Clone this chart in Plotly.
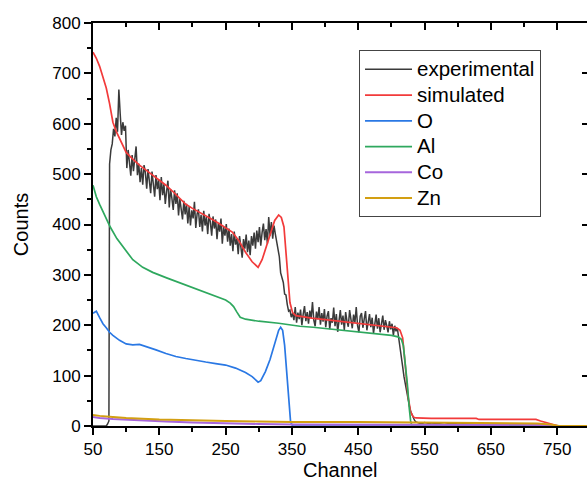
import plotly.graph_objects as go

FONT = "Liberation Sans, Arial, sans-serif"

# ---------------- data ----------------
# experimental spectrum
exp_lead_channel = [50, 60, 70, 72, 74]
exp_lead_counts = [0, 0, 0, 4, 10]
exp_grid_start = 75
exp_grid_step = 2
exp_grid_counts = [
    520, 548, 560, 590, 575, 612, 584, 668, 620, 578,   # 75..93
    603, 586, 596, 512, 548, 522, 497, 538, 506, 530,   # 95..113
    555, 498, 521, 484, 512, 479, 518, 503, 471, 510,   # 115..133
    486, 462, 505, 476, 455, 498, 470, 489, 448, 494,   # 135..153
    458, 480, 441, 466, 487, 434, 470, 452, 429, 468,   # 155..173
    441, 462, 418, 451, 430, 410, 447, 420, 441, 402,   # 175..193
    436, 398, 428, 412, 445, 393, 421, 430, 395, 419,   # 195..213
    386, 427, 398, 415, 381, 421, 404, 378, 416, 392,   # 215..233
    410, 371, 402, 386, 412, 362, 395, 378, 401, 366,   # 235..253
    392, 358, 381, 347, 386, 360, 372, 341, 377, 348,   # 255..273
    334, 371, 352, 380, 345, 368, 339, 377, 358, 384,   # 275..293
    352, 388, 365, 395, 358, 384, 402, 369, 391, 362,   # 295..313
    415, 378, 405, 372, 398, 381, 365, 346, 336, 304,   # 315..333
    292, 285, 262, 260, 241, 228, 230, 216, 224, 210,   # 335..353
    236, 205, 225, 212, 231, 200, 222, 238, 208, 226,   # 355..373
    203, 229, 214, 246, 210, 198, 227, 212, 236, 201,   # 375..393
    224, 207, 232, 196, 218, 228, 192, 214, 205, 235,   # 395..413
    198, 222, 187, 214, 230, 201, 219, 190, 226, 208,   # 415..433
    197, 230, 212, 194, 221, 205, 236, 199, 186, 218,   # 435..453
    224, 195, 212, 228, 190, 207, 222, 196, 215, 184,   # 455..473
    209, 221, 193, 214, 186, 205, 219, 191, 210, 199,   # 475..493
    186, 208, 192, 203, 180, 199, 188, 194, 176, 158,   # 495..513
    145, 118, 98, 82, 74, 56, 41, 29, 22, 15,           # 515..533
    11, 8,                                              # 535..537
]
exp_tail_channel = [540, 545, 550, 560, 570, 580, 590, 600, 615, 630, 645,
                    660, 675, 690, 705, 720, 730, 740, 748, 760]
exp_tail_counts = [6, 4, 7, 4, 5, 3, 6, 4, 5, 3, 5, 3, 4, 3, 4, 3, 2, 1, 0, 0]

# simulated total
sim_channel = [50, 55, 60, 65, 70, 75, 80, 85, 90, 95, 100, 110, 120, 130, 140,
               150, 160, 170, 180, 190, 200, 210, 220, 230, 240, 250, 260, 270,
               280, 290, 299, 305, 311, 317, 324, 330, 334, 338, 341, 344, 347,
               351, 356, 380, 400, 420, 440, 460, 480, 500, 508, 513, 517, 521,
               525, 529, 533, 537, 560, 600, 628, 632, 700, 718, 725, 735, 745,
               752, 795]
sim_counts = [742, 730, 714, 694, 671, 640, 603, 585, 570, 555, 543, 530, 518,
              508, 498, 488, 478, 466, 452, 440, 432, 425, 418, 410, 402, 394,
              385, 368, 345, 326, 315, 330, 355, 378, 408, 419, 414, 395, 350,
              290, 245, 225, 219, 214, 211, 208, 205, 202, 200, 197, 195, 190,
              175, 120, 60, 28, 18, 16, 15, 15, 15, 13, 13, 13, 10, 6, 2, 0, 0]

# O
o_channel = [50, 55, 60, 65, 70, 75, 80, 90, 100, 110, 120, 125, 135, 145, 160,
             175, 190, 205, 220, 235, 250, 265, 280, 290, 295, 299, 303, 310,
             317, 324, 330, 333, 336, 339, 342, 345, 348, 351, 795]
o_counts = [224, 228, 215, 203, 195, 186, 180, 170, 163, 161, 162, 160, 155,
            151, 144, 138, 134, 130, 127, 124, 121, 115, 106, 98, 91, 87, 90,
            108, 132, 162, 190, 196, 190, 160, 105, 45, 8, 0, 0]

# Al
al_channel = [50, 55, 60, 65, 70, 76, 86, 101, 110, 125, 140, 161, 185, 211,
              235, 250, 257, 262, 267, 272, 280, 300, 330, 362, 382, 420, 460,
              500, 510, 515, 518, 521, 524, 527, 529, 531, 795]
al_counts = [478, 455, 440, 425, 410, 395, 372, 345, 330, 315, 305, 294, 282,
             270, 258, 250, 244, 237, 226, 216, 212, 208, 204, 198, 196, 191,
             186, 180, 177, 172, 160, 125, 84, 35, 10, 0, 0]

# Co
co_channel = [50, 60, 80, 120, 160, 200, 250, 300, 350, 400, 500, 600, 700,
              715, 725, 735, 742, 795]
co_counts = [18, 16, 14, 11, 9, 7, 5, 4, 3, 3, 3, 2, 2, 3, 2, 0.5, 0, 0]

# Zn
zn_channel = [50, 60, 80, 100, 150, 200, 250, 300, 350, 450, 550, 650, 720,
              740, 752, 795]
zn_counts = [22, 20, 18, 16, 13, 11, 10, 9, 8, 8, 7, 6, 5, 3, 0, 0]

# axis ticks
x_tick_values = [50, 150, 250, 350, 450, 550, 650, 750]
y_tick_values = [0, 100, 200, 300, 400, 500, 600, 700, 800]

# ---------------- build ----------------
exp_channel = (exp_lead_channel
               + list(range(exp_grid_start,
                            exp_grid_start + exp_grid_step * len(exp_grid_counts),
                            exp_grid_step))
               + exp_tail_channel)
exp_counts = exp_lead_counts + exp_grid_counts + exp_tail_counts

series = [
    ("experimental", exp_channel, exp_counts, "#3a3a3a", 1.5),
    ("simulated", sim_channel, sim_counts, "#f23a3a", 1.7),
    ("O", o_channel, o_counts, "#2a78e4", 1.7),
    ("Al", al_channel, al_counts, "#2ea85e", 1.7),
    ("Co", co_channel, co_counts, "#a666dc", 1.9),
    ("Zn", zn_channel, zn_counts, "#d39f12", 1.9),
]

fig = go.Figure()
for name, xs, ys, col, w in series:
    fig.add_trace(go.Scatter(
        x=xs, y=ys, mode="lines",
        name='<span style="font-size:20.5px">' + name + "</span>",
        line=dict(color=col, width=w)))

# helper trace so the mirrored top/right axes are drawn
fig.add_trace(go.Scatter(x=[50], y=[0], xaxis="x2", yaxis="y2", mode="markers",
                         marker=dict(opacity=0), showlegend=False,
                         hoverinfo="skip"))

XR = [50, 795]
YR = [0, 800]

fig.update_layout(
    width=587, height=483,
    margin=dict(l=93, r=0, t=23, b=57),
    plot_bgcolor="white", paper_bgcolor="white",
    font=dict(family=FONT, color="black"),
    legend=dict(x=0.5385, y=0.932, xanchor="left", yanchor="top",
                bordercolor="#444444", borderwidth=1, bgcolor="white",
                font=dict(family=FONT, size=17.5, color="black"),
                itemwidth=47, tracegroupgap=0),
    xaxis=dict(range=XR, tickmode="array", tickvals=x_tick_values,
               ticks="outside", ticklen=7, tickwidth=1.5, tickcolor="black",
               minor=dict(ticks="outside", ticklen=4, tickwidth=1.5,
                          tickcolor="black", dtick=50, tick0=50),
               showline=True, linewidth=2, linecolor="black",
               showgrid=False, zeroline=False,
               tickfont=dict(family=FONT, size=17, color="black"),
               automargin=False),
    yaxis=dict(range=YR, tickmode="array", tickvals=y_tick_values,
               ticks="outside", ticklen=7, tickwidth=1.5, tickcolor="black",
               minor=dict(ticks="outside", ticklen=4, tickwidth=1.5,
                          tickcolor="black", dtick=50, tick0=0),
               showline=True, linewidth=2, linecolor="black",
               showgrid=False, zeroline=False,
               tickfont=dict(family=FONT, size=17, color="black"),
               title=dict(text="Counts", standoff=18,
                          font=dict(family=FONT, size=20, color="black")),
               automargin=False),
    xaxis2=dict(range=XR, overlaying="x", side="top", anchor="y",
                tickmode="array", tickvals=x_tick_values,
                ticks="inside", ticklen=7, tickwidth=1.5, tickcolor="black",
                minor=dict(ticks="inside", ticklen=4, tickwidth=1.5,
                           tickcolor="black", dtick=50, tick0=50),
                showline=True, linewidth=2, linecolor="black",
                showticklabels=False, showgrid=False, zeroline=False),
    yaxis2=dict(range=YR, overlaying="y", side="right", anchor="x",
                tickmode="array", tickvals=y_tick_values,
                ticks="inside", ticklen=5, tickwidth=1.5, tickcolor="black",
                showline=False, showticklabels=False, showgrid=False,
                zeroline=False),
    annotations=[dict(text="Channel", xref="paper", yref="paper",
                      x=0.5, y=-0.141, xanchor="center", yanchor="bottom",
                      showarrow=False,
                      font=dict(family=FONT, size=20, color="black"))],
)

fig.write_html("out.html")
